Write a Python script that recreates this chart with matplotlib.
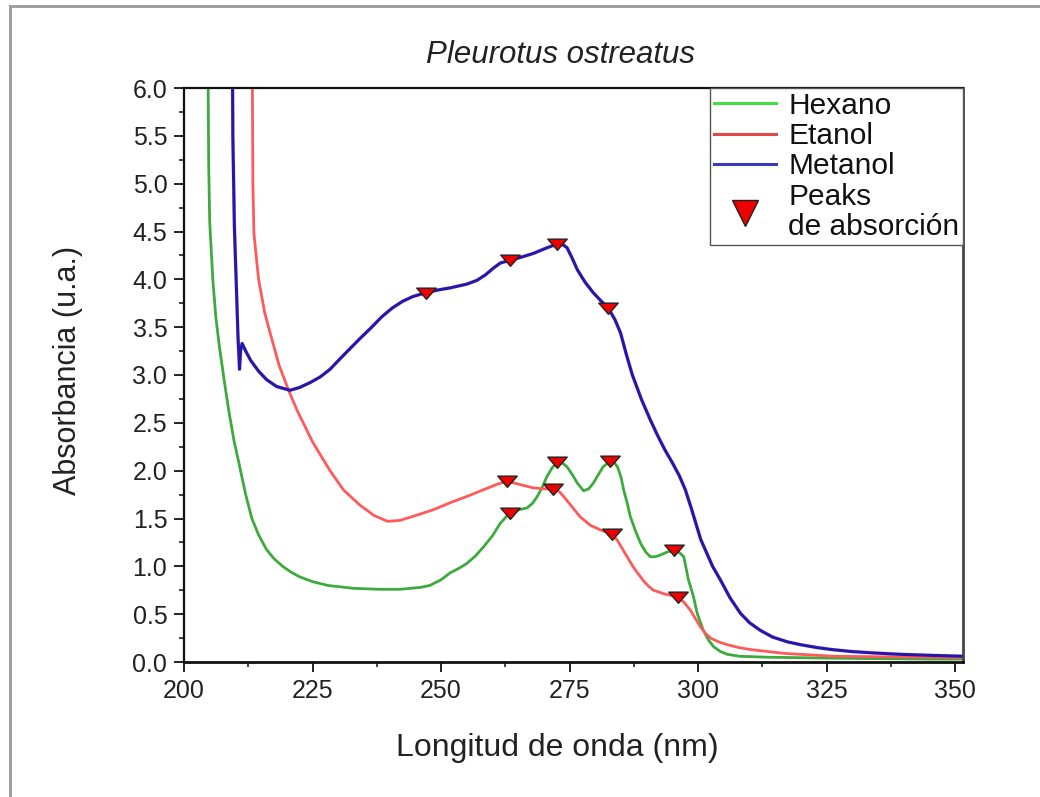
import matplotlib
matplotlib.use("Agg")
import matplotlib.pyplot as plt
from matplotlib.lines import Line2D
from matplotlib.path import Path
from matplotlib.ticker import MultipleLocator, FormatStrFormatter

plt.rcParams['font.family'] = ['Liberation Sans', 'DejaVu Sans']

# ---------------- data ----------------
hex_x = [204.5, 204.7, 204.8, 205.0, 205.6, 206.2, 206.9, 207.8, 208.7, 209.7, 210.8,
         212.0, 213.2, 214.5, 216.0, 217.5, 219.2, 220.8, 222.5, 225.0, 228.0, 233.0,
         238.0, 242.0, 246.0, 247.8, 250.0, 251.7, 253.5, 255.0, 256.7, 258.2, 260.0,
         261.5, 263.4, 265.0, 266.7, 267.8, 268.7, 269.7, 270.6, 271.6, 272.6, 273.6,
         274.5, 275.5, 276.5, 277.7, 278.7, 279.6, 280.6, 281.5, 282.9, 283.6, 284.3,
         285.0, 285.5, 286.2, 286.8, 287.8, 288.8, 289.8, 290.7, 291.7, 292.7, 294.0,
         295.2, 296.2, 297.2, 298.1, 299.1, 299.8, 301.0, 302.0, 303.0, 304.3, 305.7,
         308.0, 313.5, 320.0, 326.4, 335.0, 345.0, 351.5]
hex_y = [6.5, 6.0, 5.2, 4.6, 4.0, 3.6, 3.29, 2.95, 2.63, 2.32, 2.05,
         1.75, 1.50, 1.33, 1.18, 1.08, 1.00, 0.94, 0.89, 0.84, 0.80, 0.77,
         0.76, 0.76, 0.78, 0.80, 0.86, 0.93, 0.98, 1.03, 1.11, 1.20, 1.32,
         1.45, 1.56, 1.59, 1.61, 1.66, 1.73, 1.83, 1.94, 2.03, 2.09, 2.08,
         2.04, 1.96, 1.87, 1.79, 1.81, 1.87, 1.96, 2.04, 2.10, 2.09, 2.04,
         1.93, 1.80, 1.66, 1.52, 1.37, 1.24, 1.15, 1.10, 1.10, 1.12, 1.15,
         1.17, 1.15, 1.10, 0.86, 0.68, 0.51, 0.33, 0.23, 0.16, 0.11, 0.08,
         0.06, 0.05, 0.045, 0.04, 0.035, 0.03, 0.03]

eta_x = [213.2, 213.3, 213.4, 213.6, 214.5, 215.7, 216.7, 218.5, 220.5, 222.0, 225.0,
         228.4, 231.0, 234.2, 237.0, 239.6, 242.0, 245.0, 248.4, 252.0, 255.0, 258.2,
         261.0, 262.8, 265.0, 267.9, 270.0, 271.8, 273.0, 274.0, 275.5, 277.0, 279.0,
         281.0, 283.2, 284.3, 285.3, 286.4, 287.4, 288.5, 289.5, 290.4, 291.3, 293.5,
         296.1, 297.3, 298.5, 299.5, 300.4, 301.4, 302.4, 304.0, 305.7, 308.0, 310.2,
         316.7, 326.4, 335.0, 345.8, 351.5]
eta_y = [6.5, 6.0, 5.0, 4.48, 4.0, 3.65, 3.45, 3.10, 2.82, 2.63, 2.30,
         2.00, 1.80, 1.64, 1.53, 1.47, 1.48, 1.53, 1.59, 1.67, 1.73, 1.80,
         1.86, 1.89, 1.86, 1.82, 1.81, 1.81, 1.78, 1.72, 1.62, 1.52, 1.43,
         1.38, 1.34, 1.27, 1.18, 1.08, 0.99, 0.91, 0.84, 0.79, 0.75, 0.71,
         0.68, 0.62, 0.54, 0.45, 0.37, 0.30, 0.25, 0.21, 0.18, 0.15, 0.13,
         0.09, 0.06, 0.055, 0.05, 0.045]

met_x = [209.4, 209.5, 209.8, 210.2, 210.5, 210.8, 211.0, 211.3, 212.0, 213.0, 214.5,
         216.1, 218.0, 220.6, 222.5, 224.5, 226.5, 228.4, 230.0, 232.0, 234.2, 236.5,
         238.5, 240.5, 242.5, 244.5, 247.0, 249.5, 251.7, 255.0, 257.0, 258.7, 260.0,
         261.5, 263.4, 265.5, 267.9, 270.6, 272.6, 273.5, 274.5, 275.5, 276.5, 278.0,
         279.6, 281.0, 282.5, 283.8, 284.9, 286.0, 287.2, 289.0, 290.7, 292.0, 293.5,
         295.0, 296.3, 297.5, 298.7, 300.5, 302.8, 304.3, 306.2, 308.2, 310.0, 312.1,
         314.5, 317.4, 320.0, 323.2, 326.0, 329.7, 334.0, 339.4, 345.0, 351.5]
met_y = [6.5, 5.5, 4.55, 3.90, 3.40, 3.06, 3.25, 3.33, 3.25, 3.15, 3.04,
         2.95, 2.88, 2.84, 2.87, 2.92, 2.98, 3.06, 3.15, 3.26, 3.38, 3.50,
         3.61, 3.70, 3.77, 3.82, 3.86, 3.89, 3.91, 3.95, 3.99, 4.05, 4.11,
         4.17, 4.20, 4.23, 4.27, 4.33, 4.37, 4.37, 4.33, 4.22, 4.10, 3.97,
         3.86, 3.78, 3.70, 3.58, 3.44, 3.22, 3.00, 2.74, 2.53, 2.38, 2.22,
         2.08, 1.95, 1.80, 1.60, 1.28, 1.00, 0.86, 0.67, 0.51, 0.41, 0.33,
         0.26, 0.21, 0.18, 0.15, 0.13, 0.11, 0.095, 0.08, 0.07, 0.06]

hex_peaks_x = [263.4, 272.6, 282.9, 295.2]
hex_peaks_y = [1.56, 2.09, 2.10, 1.17]
eta_peaks_x = [262.8, 271.8, 283.2, 296.1]
eta_peaks_y = [1.89, 1.81, 1.34, 0.68]
met_peaks_x = [247.0, 263.4, 272.6, 282.5]
met_peaks_y = [3.86, 4.20, 4.37, 3.70]

labels = ["Hexano", "Etanol", "Metanol", "Peaks\nde absorción"]
title = "Pleurotus ostreatus"
xlabel = "Longitud de onda (nm)"
ylabel = "Absorbancia (u.a.)"

# ---------------- style ----------------
c_hex = "#3daa3d"
c_eta = "#ff5a5a"
c_met = "#2418a8"

W, H = 1040, 797
fig = plt.figure(figsize=(W / 100, H / 100), dpi=100)
ax = fig.add_axes([184 / W, 1 - 662 / H, (963 - 184) / W, (662 - 88) / H])

ax.plot(hex_x, hex_y, color=c_hex, lw=2.0, solid_joinstyle='round')
ax.plot(eta_x, eta_y, color=c_eta, lw=2.0, solid_joinstyle='round')
ax.plot(met_x, met_y, color="#c040c0", lw=2.6, alpha=0.35, solid_joinstyle='round')
ax.plot(met_x, met_y, color=c_met, lw=2.2, solid_joinstyle='round')

tri = Path([(-1.0, 0.55), (1.0, 0.55), (0.0, -0.6), (-1.0, 0.55)],
           [Path.MOVETO, Path.LINETO, Path.LINETO, Path.CLOSEPOLY])
for px, py in ((hex_peaks_x, hex_peaks_y), (eta_peaks_x, eta_peaks_y), (met_peaks_x, met_peaks_y)):
    ax.plot(px, py, linestyle='none', marker=tri, markersize=14,
            markerfacecolor='#ee0000', markeredgecolor='#222222', markeredgewidth=1.0, zorder=5)

ax.set_xlim(200, 351.5)
ax.set_ylim(0, 6.0)
ax.xaxis.set_major_locator(MultipleLocator(25))
ax.xaxis.set_minor_locator(MultipleLocator(12.5))
ax.yaxis.set_major_locator(MultipleLocator(0.5))
ax.yaxis.set_minor_locator(MultipleLocator(0.25))
ax.yaxis.set_major_formatter(FormatStrFormatter('%.1f'))
ax.tick_params(which='both', direction='out', top=False, right=False, colors='#222222')
ax.tick_params(which='major', length=7, width=1.4, labelsize=18, pad=5)
ax.tick_params(which='minor', length=3.5, width=1.2)
for s in ax.spines.values():
    s.set_linewidth(1.6)
    s.set_color('#111111')
ax.spines['bottom'].set_linewidth(2.0)
ax.spines['right'].set_color('#444444')
ax.spines['right'].set_linewidth(2.0)

handles = [Line2D([], [], color="#44dd44", lw=2.2),
           Line2D([], [], color="#e04848", lw=2.2),
           Line2D([], [], color="#3a3ab8", lw=2.2),
           Line2D([], [], linestyle='none', marker='v', markersize=19,
                  markerfacecolor='#ee0000', markeredgecolor='#222222', markeredgewidth=1.0)]
leg = ax.legend(handles, labels, loc='upper right', bbox_to_anchor=(1, 1), borderaxespad=0,
                fontsize=21.5, frameon=True, fancybox=False, framealpha=1, edgecolor='#555555',
                handlelength=2.1, handletextpad=0.4, labelspacing=0.08, borderpad=0.12)
leg.get_frame().set_linewidth(1.0)
for t in leg.get_texts():
    t.set_color('#111111')
leg.get_texts()[3].set_linespacing(1.12)

fig.text(560 / W, 1 - 55 / H, title, ha='center', va='center', fontsize=22.5,
         fontstyle='italic', color='#222222')
fig.text(557 / W, 1 - 748 / H, xlabel, ha='center', va='center', fontsize=23, color='#222222')
fig.text(68 / W, 1 - 370 / H, ylabel, ha='center', va='center', rotation=90,
         fontsize=22, color='#222222')

# figure border (left and top visible)
fig.add_artist(Line2D([10 / W, 10 / W], [0, 1 - 6 / H], transform=fig.transFigure,
                      color='#999999', lw=2.0))
fig.add_artist(Line2D([10 / W, 1], [1 - 6 / H, 1 - 6 / H], transform=fig.transFigure,
                      color='#999999', lw=2.0))

fig.savefig("out.png", dpi=100)
